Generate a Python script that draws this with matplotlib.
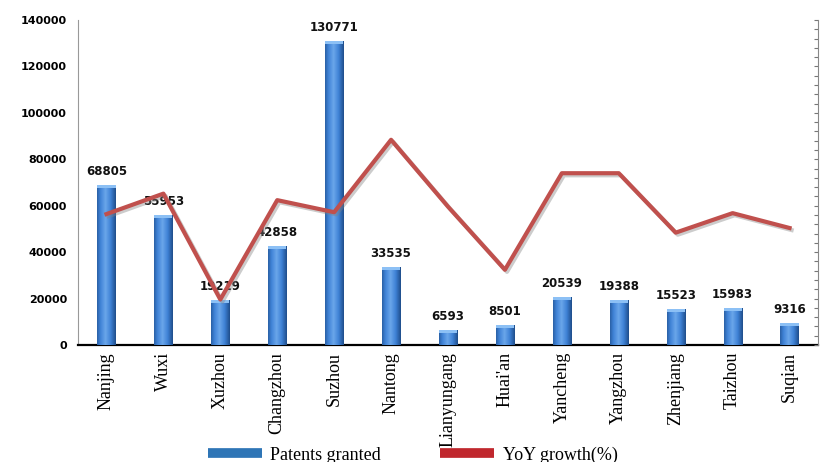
import numpy as np
import matplotlib.pyplot as plt
import matplotlib.patheffects as pe
from matplotlib.lines import Line2D
from matplotlib.colors import LinearSegmentedColormap

cities = ['Nanjing', 'Wuxi', 'Xuzhou', 'Changzhou', 'Suzhou', 'Nantong', 'Lianyungang',
          "Huai'an", 'Yancheng', 'Yangzhou', 'Zhenjiang', 'Taizhou', 'Suqian']
patents = [68805, 55953, 19219, 42858, 130771, 33535, 6593, 8501, 20539, 19388, 15523, 15983, 9316]
# yoy growth, read from the unlabelled right axis (estimated)
growth = [14.1, 16.3, 4.9, 15.6, 14.3, 22.1, 14.9, 8.1, 18.5, 18.5, 12.1, 14.2, 12.6]

fig = plt.figure(figsize=(8.25, 4.62), dpi=100)
ax = fig.add_axes([78/825, 1-345/462, 740/825, 325/462])
x = np.arange(len(cities))

bars = ax.bar(x, patents, width=0.32, color='#3A78C8', zorder=2)
grad = np.linspace(0, 1, 50)
grad = 1 - np.abs(grad - 0.45) * 1.6
grad = np.vstack([grad, grad])
cm = LinearSegmentedColormap.from_list('b', ['#1F4E8C', '#3F82D6', '#6AA6EA'])
for b in bars:
    x0, y0 = b.get_x(), b.get_y()
    w, h = b.get_width(), b.get_height()
    im = ax.imshow(grad, extent=[x0, x0 + w, y0, y0 + h], aspect='auto', cmap=cm, zorder=3)
    im.set_clip_path(b)
    ax.bar(x0 + w/2, 1300, bottom=y0 + h - 1300, width=w, color='#8CC0F5', zorder=4, lw=0)
    ax.annotate(f'{int(h)}', (x0 + w/2, y0 + h), xytext=(0, 5), textcoords='offset points',
                ha='center', va='bottom', fontsize=8.5, fontweight='bold', color='#111111', zorder=6)

ax.set_xlim(-0.5, len(cities) - 0.5)
ax.set_ylim(0, 140000)
ax.set_yticks(range(0, 140001, 20000))
ax.tick_params(axis='y', length=0, pad=8, labelsize=8)
for t in ax.get_yticklabels():
    t.set_fontweight('bold')
ax.set_xticks(x)
ax.set_xticklabels(cities, rotation=90, family='Liberation Serif', fontsize=13)
ax.tick_params(axis='x', length=0, pad=5)
ax.spines['top'].set_visible(False)
ax.spines['right'].set_visible(False)
ax.spines['left'].set_color('#999999')
ax.spines['bottom'].set_linewidth(1.6)

ax2 = ax.twinx()
ax2.set_ylim(0, 35)
ax2.set_yticks(range(0, 36))
ax2.tick_params(axis='y', direction='in', length=3, color='#777777', labelright=False)
ax2.spines['right'].set_color('#888888')
ax2.spines['top'].set_visible(False)
ax2.spines['left'].set_visible(False)
ax2.spines['bottom'].set_visible(False)
ax2.plot(x, growth, color='#C0504D', lw=3, zorder=5,
         path_effects=[pe.SimpleLineShadow(offset=(1.5, -1.5), shadow_color='gray', alpha=0.4), pe.Normal()])

handles = [Line2D([0], [0], color='#2E75B6', lw=7, solid_capstyle='butt'),
           Line2D([0], [0], color='#C0272D', lw=7, solid_capstyle='butt')]
fig.legend(handles, ['Patents granted', 'YoY growth(%)'], loc='center', ncol=2,
           bbox_to_anchor=(0.5, 1 - 455/462), frameon=False,
           prop={'family': 'Liberation Serif', 'size': 13},
           handlelength=3, handletextpad=0.45, columnspacing=3.3)

fig.savefig('out.png', dpi=100)
